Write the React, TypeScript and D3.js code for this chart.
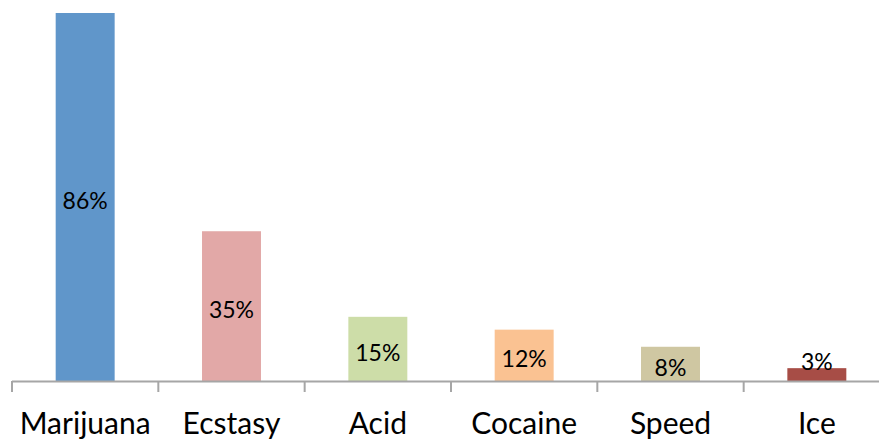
import React from "react";
import * as d3 from "d3";

const categories = ["Marijuana", "Ecstasy", "Acid", "Cocaine", "Speed", "Ice"];
const values = [86, 35, 15, 12, 8, 3];
const colors = ["#6096CA", "#E2A8A7", "#CDDDA8", "#FAC292", "#CFC7A2", "#A74D46"];

const W = 879;
const H = 439;
const baseline = 381;
const left = 12;
const right = 890;

export default function App() {
  const x = d3.scaleBand<string>().domain(categories).range([left, right]).padding(0);
  const y = d3.scaleLinear().domain([0, 86]).range([baseline, 13]);
  const bw = x.bandwidth() * 0.403;
  const font = "Lato, 'Open Sans', sans-serif";
  return (
    <svg width={W} height={H} style={{ position: "absolute", left: 0, top: 0, background: "#fff" }}>
      {categories.map((c, i) => {
        const cx = (x(c) as number) + x.bandwidth() / 2;
        const top = y(values[i]);
        const h = baseline - top;
        const ly = h >= 20 ? top + h / 2 + 3 : top - 7;
        return (
          <g key={c}>
            <rect x={cx - bw / 2} y={top} width={bw} height={h} fill={colors[i]} />
            <text x={cx} y={ly} textAnchor="middle" dominantBaseline="central" fontFamily={font} fontSize={23} fill="#000">
              {values[i] + "%"}
            </text>
            <text x={cx} y={434} textAnchor="middle" fontFamily={font} fontSize={30} fill="#000">
              {c}
            </text>
          </g>
        );
      })}
      <line x1={left} x2={W} y1={baseline + 0.5} y2={baseline + 0.5} stroke="#A6A6A6" strokeWidth={2} />
      {categories.map((c) => (
        <line key={c} x1={(x(c) as number)} x2={(x(c) as number)} y1={baseline} y2={392} stroke="#A6A6A6" strokeWidth={2} />
      ))}
    </svg>
  );
}
